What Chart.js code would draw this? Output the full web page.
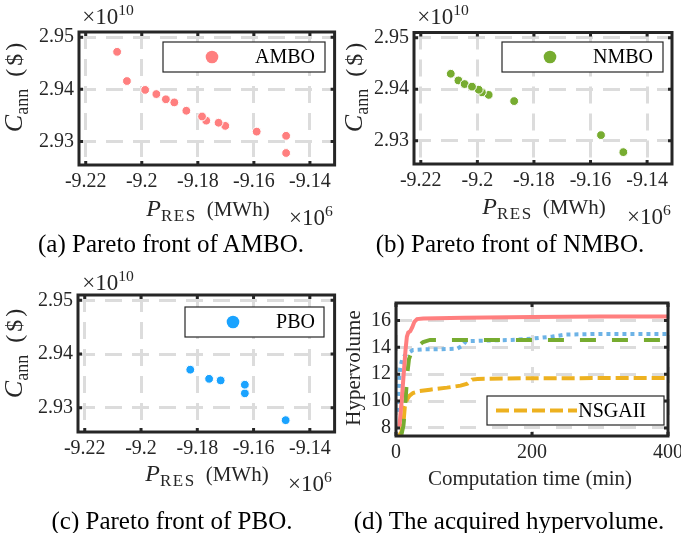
<!DOCTYPE html>
<html lang="en">
<head>
    <meta charset="UTF-8">
    <title>Pareto fronts and hypervolume</title>
    <script src="https://cdn.jsdelivr.net/npm/chart.js"></script>
    <style>
        body { margin: 0; background: #fff; }
        #page { position: relative; width: 681px; height: 533px; overflow: hidden; font-family: "Liberation Serif", "Times New Roman", serif; color: #262626; }
        canvas { position: absolute; }
        .lbl { position: absolute; white-space: nowrap; transform: translate(-50%, -50%); line-height: 1; }
        .rot { transform: translate(-50%, -50%) rotate(-90deg); }
        .lbl sup { font-size: 68%; vertical-align: 0.55em; }
        .cap { font-size: 25px; color: #000; }
        .ax { font-size: 21px; }
        .mul { font-size: 23px; }
        .px i { font-size: 24px; }
        .px sub { font-size: 17px; letter-spacing: 1.5px; vertical-align: -0.35em; }
        .px span { margin-left: 10px; }
        .cy i { font-size: 26px; }
        .cy sub { font-size: 18px; vertical-align: -0.35em; }
        .cy span { margin-left: 12px; font-size: 24px; letter-spacing: 3px; }
    </style>
</head>
<body>
<div id="page">
    <canvas id="chartA" width="340" height="200" style="left:0;top:0"></canvas>
    <canvas id="chartB" width="341" height="200" style="left:340px;top:0"></canvas>
    <canvas id="chartC" width="340" height="200" style="left:0;top:260px"></canvas>
    <canvas id="chartD" width="341" height="210" style="left:340px;top:260px"></canvas>

    <!-- (a) -->
    <div class="lbl mul" style="left:108px;top:15px">&times;10<sup>10</sup></div>
    <div class="lbl ax rot cy" style="left:16px;top:86px"><i>C</i><sub>ann</sub><span>($)</span></div>
    <div class="lbl ax px" style="left:208px;top:210px"><i>P</i><sub>RES</sub><span>(MWh)</span></div>
    <div class="lbl mul" style="left:311px;top:216px">&times;10<sup>6</sup></div>
    <div class="lbl cap" style="left:171px;top:243px">(a) Pareto front of AMBO.</div>

    <!-- (b) -->
    <div class="lbl mul" style="left:443px;top:15px">&times;10<sup>10</sup></div>
    <div class="lbl ax rot cy" style="left:356px;top:86px"><i>C</i><sub>ann</sub><span>($)</span></div>
    <div class="lbl ax px" style="left:544px;top:208px"><i>P</i><sub>RES</sub><span>(MWh)</span></div>
    <div class="lbl mul" style="left:649px;top:215px">&times;10<sup>6</sup></div>
    <div class="lbl cap" style="left:510px;top:243px">(b) Pareto front of NMBO.</div>

    <!-- (c) -->
    <div class="lbl mul" style="left:108px;top:281px">&times;10<sup>10</sup></div>
    <div class="lbl ax rot cy" style="left:16px;top:352px"><i>C</i><sub>ann</sub><span>($)</span></div>
    <div class="lbl ax px" style="left:207px;top:475px"><i>P</i><sub>RES</sub><span>(MWh)</span></div>
    <div class="lbl mul" style="left:310px;top:482px">&times;10<sup>6</sup></div>
    <div class="lbl cap" style="left:172px;top:520px">(c) Pareto front of PBO.</div>

    <!-- (d) -->
    <div class="lbl ax rot" style="left:353px;top:368px">Hypervolume</div>
    <div class="lbl ax" style="left:530px;top:478px">Computation time (min)</div>
    <div class="lbl cap" style="left:509px;top:520px">(d) The acquired hypervolume.</div>
</div>

<script>
    // ---- data: Pareto fronts (x in 1e6 MWh, y in 1e10 $) ----
    const amboX = [-9.1485, -9.1485, -9.1590, -9.1702, -9.1726, -9.1770, -9.1785, -9.1841, -9.1884, -9.1914, -9.1948, -9.1988, -9.2053, -9.2088];
    const amboY = [2.9278, 2.9311, 2.9319, 2.9330, 2.9336, 2.9340, 2.9348, 2.9359, 2.9375, 2.9381, 2.9391, 2.9399, 2.9416, 2.9472];

    const nmboX = [-9.1484, -9.1563, -9.1870, -9.1960, -9.1984, -9.1995, -9.2067, -9.2094, -9.2045, -9.2019];
    const nmboY = [2.9278, 2.9311, 2.9377, 2.9389, 2.9394, 2.9399, 2.9417, 2.9430, 2.9410, 2.9405];

    const pboX = [-9.1486, -9.1631, -9.1631, -9.1717, -9.1758, -9.1825];
    const pboY = [2.9277, 2.9327, 2.9343, 2.9351, 2.9354, 2.9371];

    // ---- data: hypervolume vs computation time (min) ----
    const amboT  = [5, 8, 11, 14, 16, 18, 21, 24, 27, 31, 40, 100, 200, 300, 400];
    const amboHv = [8.1, 9.8, 11.8, 13.8, 14.8, 15.1, 15.2, 15.5, 15.9, 16.1, 16.15, 16.2, 16.25, 16.3, 16.3];

    const nmboT  = [8, 11, 13, 15, 17, 19, 21, 25, 30, 40, 50, 400];
    const nmboHv = [7.5, 8.2, 9.3, 10.8, 12.2, 13.1, 13.4, 13.8, 14.0, 14.4, 14.55, 14.55];

    const pboT  = [2, 4, 6, 9, 13, 18, 25, 40, 60, 90, 97, 103, 130, 170, 200, 230, 250, 300, 400];
    const pboHv = [9.2, 11, 12.4, 13.1, 13.4, 13.6, 13.8, 13.85, 13.85, 13.9, 14.1, 14.45, 14.5, 14.55, 14.65, 14.8, 14.95, 15.0, 15.0];

    const nsgaT  = [4, 8, 11, 13, 16, 20, 25, 35, 50, 75, 95, 105, 112, 120, 200, 400];
    const nsgaHv = [7.4, 7.7, 8.4, 9.6, 10.1, 10.4, 10.6, 10.75, 10.85, 11.0, 11.15, 11.3, 11.6, 11.65, 11.7, 11.72];

    // ---- ticks ----
    const paretoXTicks = [-9.22, -9.2, -9.18, -9.16, -9.14];
    const paretoXLabels = ['-9.22', '-9.2', '-9.18', '-9.16', '-9.14'];
    const paretoYTicks = [2.93, 2.94, 2.95];
    const paretoYLabels = ['2.93', '2.94', '2.95'];
    const hvXTicks = [0, 200, 400];
    const hvYTicks = [8, 10, 12, 14, 16];

    const RED = '#ff7f7f', GREEN = '#77ac30', BLUE = '#1aa3ff', LBLUE = '#6db3e6', ORANGE = '#edb120';
    const INK = '#262626';

    Chart.defaults.font.family = '"Liberation Serif", "Times New Roman", serif';
    Chart.defaults.font.size = 20;
    Chart.defaults.color = INK;

    function pts(xs, ys) {
        return xs.map((x, i) => ({ x: x, y: ys[i] }));
    }

    // box + inward ticks on all four sides
    const framePlugin = {
        id: 'frame',
        afterDraw(chart) {
            const { ctx, chartArea: a, scales } = chart;
            ctx.save();
            ctx.strokeStyle = INK;
            ctx.lineWidth = 3;
            ctx.setLineDash([]);
            scales.x.ticks.forEach(t => {
                const px = scales.x.getPixelForValue(t.value);
                ctx.beginPath();
                ctx.moveTo(px, a.bottom); ctx.lineTo(px, a.bottom - 4);
                ctx.moveTo(px, a.top); ctx.lineTo(px, a.top + 4);
                ctx.stroke();
            });
            scales.y.ticks.forEach(t => {
                const py = scales.y.getPixelForValue(t.value);
                ctx.beginPath();
                ctx.moveTo(a.left, py); ctx.lineTo(a.left + 4, py);
                ctx.moveTo(a.right, py); ctx.lineTo(a.right - 4, py);
                ctx.stroke();
            });
            ctx.strokeRect(a.left, a.top, a.right - a.left, a.bottom - a.top);
            ctx.restore();
        }
    };

    // legend box inside the axes, showing one dataset
    const boxLegendPlugin = {
        id: 'boxLegend',
        afterDatasetsDraw(chart, args, opts) {
            const ctx = chart.ctx;
            const ds = chart.data.datasets[opts.index];
            ctx.save();
            ctx.fillStyle = '#fff';
            ctx.fillRect(opts.x, opts.y, opts.w, opts.h);
            ctx.strokeStyle = INK;
            ctx.lineWidth = 1.2;
            ctx.strokeRect(opts.x, opts.y, opts.w, opts.h);
            const cy = opts.y + opts.h / 2;
            if (opts.kind === 'marker') {
                ctx.fillStyle = ds.pointBackgroundColor;
                ctx.beginPath();
                ctx.arc(opts.sampleX, cy, 6.3, 0, Math.PI * 2);
                ctx.fill();
            } else {
                ctx.strokeStyle = ds.borderColor;
                ctx.lineWidth = ds.borderWidth;
                ctx.setLineDash(ds.borderDash || []);
                ctx.beginPath();
                ctx.moveTo(opts.sampleX, cy);
                ctx.lineTo(opts.sampleX2, cy);
                ctx.stroke();
                ctx.setLineDash([]);
            }
            ctx.fillStyle = '#000';
            ctx.font = '20px "Liberation Serif", serif';
            ctx.textAlign = 'right';
            ctx.textBaseline = 'middle';
            ctx.fillText(ds.label, opts.textRight, cy + 1);
            ctx.restore();
        }
    };

    function axisOpts(w, h, area, xCfg, yCfg, dash) {
        return {
            layout: { padding: { top: area.top, right: w - area.right, left: 0, bottom: 0 } },
            scales: {
                x: {
                    type: 'linear', min: xCfg.min, max: xCfg.max,
                    afterBuildTicks: s => { s.ticks = xCfg.ticks.map(v => ({ value: v })); },
                    afterFit: s => { s.height = h - area.bottom; s.paddingLeft = 0; s.paddingRight = 0; },
                    ticks: { padding: 5, maxRotation: 0, autoSkip: false,
                        callback: (v, i) => xCfg.labels[i] },
                    grid: { color: '#dcdcdc', lineWidth: 3, drawTicks: false },
                    border: { display: false, dash: dash }
                },
                y: {
                    type: 'linear', min: yCfg.min, max: yCfg.max,
                    afterBuildTicks: s => { s.ticks = yCfg.ticks.map(v => ({ value: v })); },
                    afterFit: s => { s.width = area.left; s.paddingTop = 0; s.paddingBottom = 0; },
                    ticks: { padding: 5, autoSkip: false,
                        callback: (v, i) => yCfg.labels[i] },
                    grid: { color: '#dcdcdc', lineWidth: 3, drawTicks: false },
                    border: { display: false, dash: dash }
                }
            }
        };
    }

    const paretoX = { min: -9.2224, max: -9.1312, ticks: paretoXTicks, labels: paretoXLabels };
    const paretoY = { min: 2.9255, max: 2.9510, ticks: paretoYTicks, labels: paretoYLabels };

    function paretoChart(id, w, h, area, label, color, xs, ys, legend) {
        const base = axisOpts(w, h, area, paretoX, paretoY, [17, 10]);
        new Chart(document.getElementById(id), {
            type: 'scatter',
            data: {
                datasets: [{
                    label: label,
                    data: pts(xs, ys),
                    pointRadius: 4.4,
                    pointBorderWidth: 1,
                    pointBorderColor: '#ffffff',
                    pointBackgroundColor: color
                }]
            },
            options: {
                responsive: false,
                animation: false,
                events: [],
                layout: base.layout,
                scales: base.scales,
                plugins: {
                    legend: { display: false },
                    tooltip: { enabled: false },
                    boxLegend: Object.assign({ index: 0, kind: 'marker' }, legend)
                }
            },
            plugins: [boxLegendPlugin, framePlugin]
        });
    }

    paretoChart('chartA', 340, 200, { left: 79, top: 32, right: 335, bottom: 165 },
        'AMBO', RED, amboX, amboY, { x: 163, y: 42, w: 162, h: 30, sampleX: 212, textRight: 315 });
    paretoChart('chartB', 341, 200, { left: 74, top: 32.5, right: 332, bottom: 164 },
        'NMBO', GREEN, nmboX, nmboY, { x: 162, y: 42, w: 161, h: 30, sampleX: 210, textRight: 313 });
    paretoChart('chartC', 340, 200, { left: 78, top: 35, right: 335, bottom: 172 },
        'PBO', BLUE, pboX, pboY, { x: 185, y: 47, w: 139, h: 30, sampleX: 233, textRight: 315 });

    // (d) hypervolume
    const hvArea = { left: 56, top: 43, right: 328, bottom: 176 };
    const hvBase = axisOpts(341, 210, hvArea,
        { min: 0, max: 400, ticks: hvXTicks, labels: hvXTicks.map(String) },
        { min: 7.4, max: 17.3, ticks: hvYTicks, labels: hvYTicks.map(String) }, [16, 16]);

    new Chart(document.getElementById('chartD'), {
        type: 'line',
        data: {
            datasets: [
                { label: 'AMBO', data: pts(amboT, amboHv), borderColor: RED, borderWidth: 4 },
                { label: 'NMBO', data: pts(nmboT, nmboHv), borderColor: GREEN, borderWidth: 4, borderDash: [16, 16] },
                { label: 'PBO', data: pts(pboT, pboHv), borderColor: LBLUE, borderWidth: 4, borderDash: [4, 4] },
                { label: 'NSGAII', data: pts(nsgaT, nsgaHv), borderColor: ORANGE, borderWidth: 4, borderDash: [13, 5] }
            ]
        },
        options: {
            responsive: false,
            animation: false,
            events: [],
            layout: hvBase.layout,
            scales: hvBase.scales,
            elements: { point: { radius: 0 }, line: { tension: 0, borderCapStyle: 'butt' } },
            plugins: {
                legend: { display: false },
                tooltip: { enabled: false },
                boxLegend: { index: 3, kind: 'line', x: 147, y: 136, w: 177, h: 29, sampleX: 156, sampleX2: 237, textRight: 306 }
            }
        },
        plugins: [boxLegendPlugin, framePlugin]
    });
</script>
</body>
</html>
